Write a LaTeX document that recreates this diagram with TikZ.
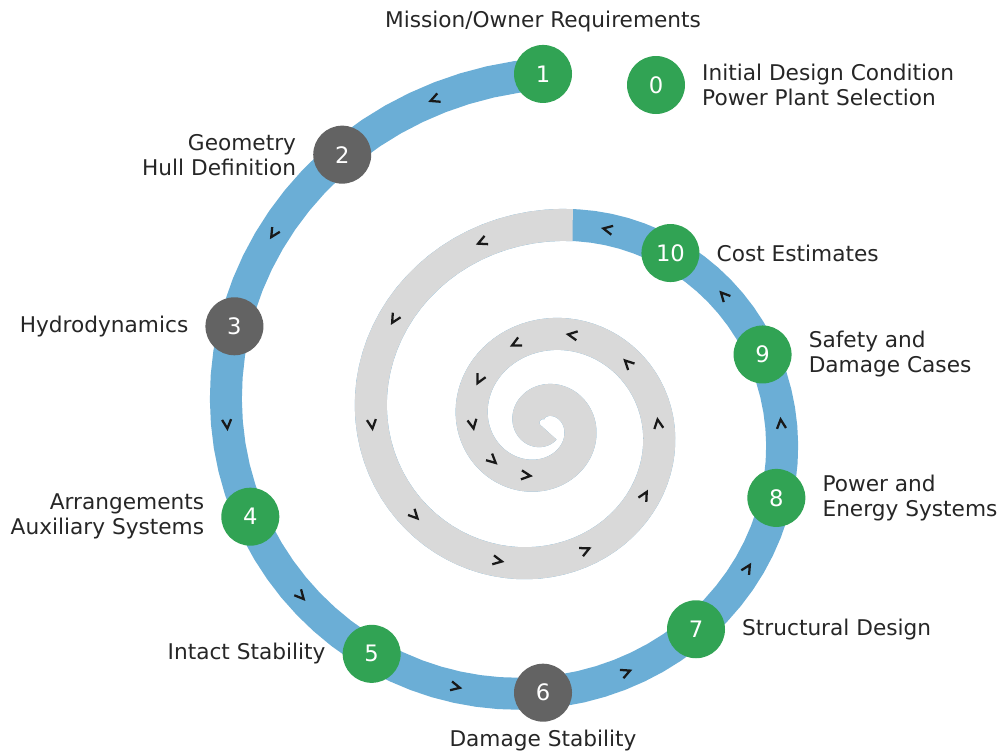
\documentclass[tikz,border=0pt]{standalone}
\usepackage{fontspec}
\setmainfont{DejaVu Sans}
\usetikzlibrary{positioning}

\definecolor{spiralblue}{RGB}{107,174,214}
\definecolor{spiralgray}{RGB}{217,217,217}
\definecolor{stagegreen}{RGB}{49,163,84}
\definecolor{stagegray}{RGB}{99,99,99}

\tikzset{
  stage/.style={circle, inner sep=0pt, minimum size=43.5pt, text=white, font=\fontsize{17}{20}\selectfont},
  green stage/.style={stage, fill=stagegreen},
  gray stage/.style={stage, fill=stagegray},
  caption/.style={inner sep=0pt, text=black!85, font=\fontsize{16.25}{18.75}\selectfont},
  band/.style={line width=24pt, line cap=butt, line join=round},
  chevron/.style={line width=1.7pt, black!90},
}

\begin{document}
\begin{tikzpicture}[x=0.75pt, y=-0.75pt]
  \useasboundingbox (0,0) rectangle (998,753);

  % spiral, one turn per unit of t
  \def\spx#1{543-1.026*(18.71-4.637*#1)^2*sin(360*#1)}
  \def\spy#1{424-(18.71-4.637*#1)^2*cos(360*#1)}

  \draw[band, spiralblue] plot[domain=0:3.55, samples=300, variable=\tp] ({\spx{\tp}}, {\spy{\tp}});
  \draw[band, spiralgray] plot[domain=0.977:3.55, samples=250, variable=\tp] ({\spx{\tp}}, {\spy{\tp}});

  % direction marks
  \foreach \k in {0,...,24} {
    \pgfmathsetmacro{\tp}{0.05+0.1*\k}
    \pgfmathsetmacro{\sr}{18.71-4.637*\tp}
    \pgfmathsetmacro{\vx}{-1.026*(-1.476*\sr*sin(360*\tp)+\sr*\sr*cos(360*\tp))}
    \pgfmathsetmacro{\vy}{-1.476*\sr*cos(360*\tp)-\sr*\sr*sin(360*\tp)}
    \pgfmathsetmacro{\ang}{atan2(\vy,\vx)}
    \draw[chevron, shift={({\spx{\tp}}, {\spy{\tp}})}, rotate=\ang] (-4.5,-4.5) -- (4.5,0) -- (-4.5,4.5);
  }

  \foreach \k in {0,...,9}
    \coordinate (p\k) at ({\spx{\k/10}}, {\spy{\k/10}});

  \node[green stage] (s1) at (p0) {1};
  \node[gray stage] (s2) at (p1) {2};
  \node[gray stage] (s3) at (p2) {3};
  \node[green stage] (s4) at (p3) {4};
  \node[green stage] (s5) at (p4) {5};
  \node[gray stage] (s6) at (p5) {6};
  \node[green stage] (s7) at (p6) {7};
  \node[green stage] (s8) at (p7) {8};
  \node[green stage] (s9) at (p8) {9};
  \node[green stage] (s10) at (p9) {10};
  \node[green stage] (s0) at (656,85) {0};

  \node[caption, above=9.5pt of s1] (l1) {Mission/Owner Requirements};
  \node[caption, left=12.5pt of s2, align=right] (l2) {Geometry\\Hull Definition};
  \node[caption, left=12.5pt of s3] (l3) {Hydrodynamics};
  \node[caption, left=12.5pt of s4, align=right] (l4) {Arrangements\\Auxiliary Systems};
  \node[caption, left=12.5pt of s5] (l5) {Intact Stability};
  \node[caption, below=6pt of s6] (l6) {Damage Stability};
  \node[caption, right=12.5pt of s7] (l7) {Structural Design};
  \node[caption, right=12.5pt of s8, align=left] (l8) {Power and\\Energy Systems};
  \node[caption, right=12.5pt of s9, align=left] (l9) {Safety and\\Damage Cases};
  \node[caption, right=12.5pt of s10] (l10) {Cost Estimates};
  \node[caption, right=12.5pt of s0, align=left] (l0) {Initial Design Condition\\Power Plant Selection};
\end{tikzpicture}
\end{document}
